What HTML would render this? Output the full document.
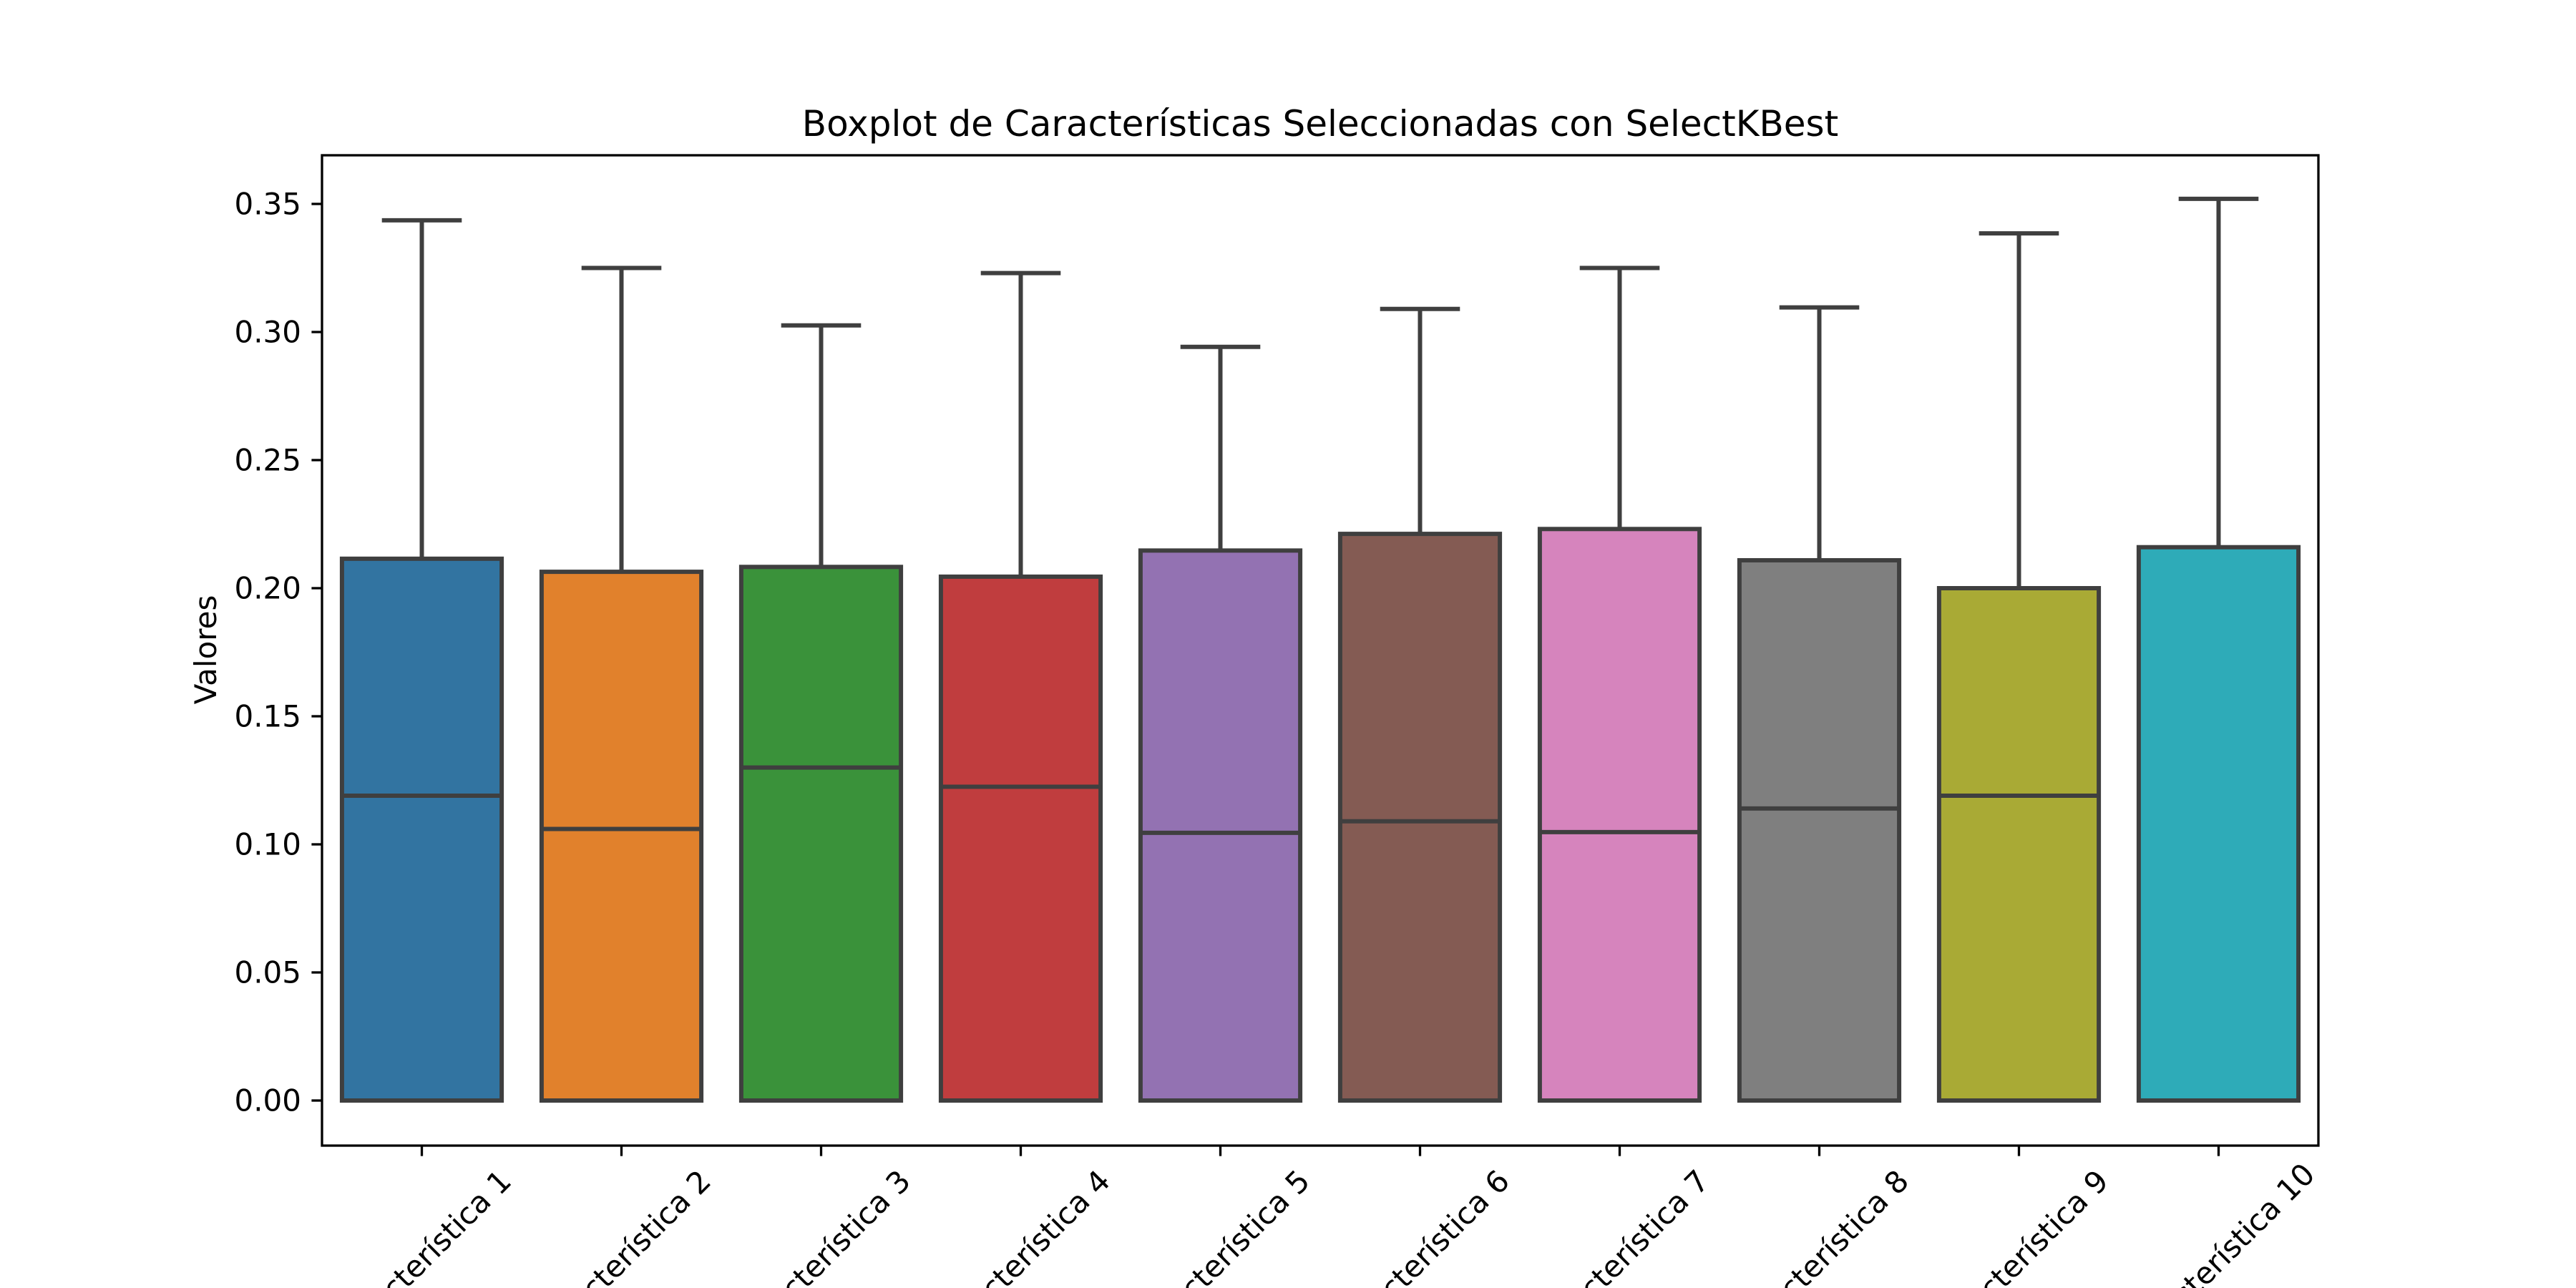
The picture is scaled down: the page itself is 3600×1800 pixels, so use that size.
<!DOCTYPE html>
<html><head><meta charset="utf-8"><style>
html,body{margin:0;padding:0;background:#fff;width:3600px;height:1800px;overflow:hidden}
svg{display:block;font-family:"DejaVu Sans","Liberation Sans",sans-serif}
</style></head><body>
<svg id="chart" width="3600" height="1800" viewBox="0 0 3600 1800" overflow="hidden" xmlns="http://www.w3.org/2000/svg">
<rect width="3600" height="1800" fill="#fff"/>
<text x="1845" y="190" font-size="50" text-anchor="middle">Boxplot de Características Seleccionadas con SelectKBest</text>
<text transform="translate(302,908) rotate(-90)" font-size="42" text-anchor="middle">Valores</text>
<g id="plot"></g>
<rect x="450" y="217" width="2790" height="1384" fill="none" stroke="#000" stroke-width="3.3"/>
</svg>
<script>
const categories = ["Característica 1","Característica 2","Característica 3","Característica 4","Característica 5","Característica 6","Característica 7","Característica 8","Característica 9","Característica 10"];
const q1Values = [0,0,0,0,0,0,0,0,0,0];
const medianValues = [0.119,0.106,0.130,0.1225,0.1045,0.109,0.1048,0.114,0.119,0];
const q3Values = [0.2115,0.2064,0.2083,0.2045,0.2147,0.2212,0.2231,0.2109,0.200,0.216];
const whiskerHigh = [0.3436,0.325,0.3026,0.323,0.2942,0.309,0.325,0.3096,0.3385,0.352];
const whiskerLow = [0,0,0,0,0,0,0,0,0,0];
const yTicks = [0,0.05,0.10,0.15,0.20,0.25,0.30,0.35];
const yTickLabels = ["0.00","0.05","0.10","0.15","0.20","0.25","0.30","0.35"];
const colors = ["#3274a1","#e1812c","#3a923a","#c03d3e","#9372b2","#845b53","#d684bd","#7f7f7f","#a9aa35","#2eabb8"];

const NS="http://www.w3.org/2000/svg";
const L=450,R=3240,T=217,B=1601;
const y0=1538, pxPer=(1538-285)/0.35;
function yScale(v){return y0 - v*pxPer;}
const band=(R-L)/categories.length;
function xScale(i){return L + band*(i+0.5);}
const g=document.getElementById('plot');
function mk(tag,attrs){const e=document.createElementNS(NS,tag);for(const k in attrs)e.setAttribute(k,attrs[k]);g.appendChild(e);return e;}

yTicks.forEach((t,i)=>{
  const y=yScale(t);
  const tk=mk('line',{x1:L-14.6,x2:L,y1:y,y2:y,stroke:'#000','stroke-width':3.3});
  
  
  const tx=mk('text',{x:L-29,y:y,'font-size':42,'text-anchor':'end','dominant-baseline':'central'});
  tx.textContent=yTickLabels[i];
  
  
});

const bw=band*0.8, cap=bw*0.5, lc='#3f3f3f', lw=6;
categories.forEach((c,i)=>{
  const cx=xScale(i);
  const wl=mk('line',{x1:cx,x2:cx,y1:yScale(q3Values[i]),y2:yScale(whiskerHigh[i]),stroke:lc,'stroke-width':lw});
  
  
  const cp=mk('line',{x1:cx-cap/2,x2:cx+cap/2,y1:yScale(whiskerHigh[i]),y2:yScale(whiskerHigh[i]),stroke:lc,'stroke-width':lw});
  
  
  const lo=mk('line',{x1:cx-cap/2,x2:cx+cap/2,y1:yScale(whiskerLow[i]),y2:yScale(whiskerLow[i]),stroke:lc,'stroke-width':lw});
  
  
  const top=yScale(q3Values[i]), bot=yScale(q1Values[i]);
  const bx=mk('rect',{x:cx-bw/2,y:top,width:bw,height:bot-top,fill:colors[i],stroke:lc,'stroke-width':lw});
  
  
  const md=mk('line',{x1:cx-bw/2,x2:cx+bw/2,y1:yScale(medianValues[i]),y2:yScale(medianValues[i]),stroke:lc,'stroke-width':lw});
  
  
  const tk=mk('line',{x1:cx,x2:cx,y1:B,y2:B+14.6,stroke:'#000','stroke-width':3.3});
  
  
  const tx=mk('text',{x:0,y:0,'font-size':42,'text-anchor':'middle','dominant-baseline':'central',transform:'translate('+cx+',1760) rotate(-45)'});
  tx.textContent=c;
  
  
});
</script>
</body></html>
